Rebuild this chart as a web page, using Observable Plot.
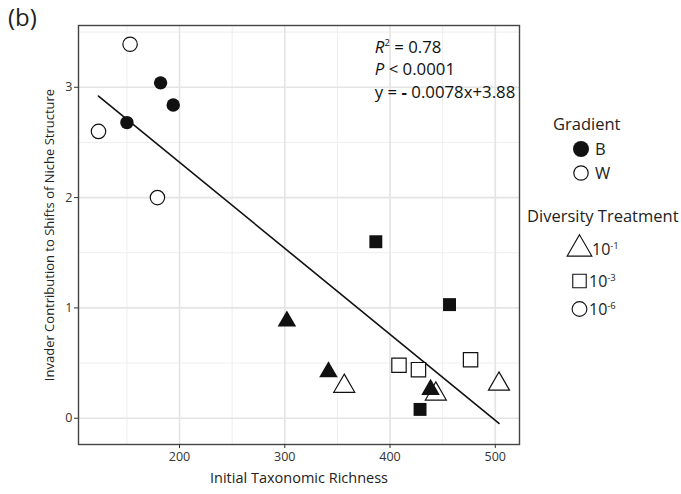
<!DOCTYPE html>
<html>
<head>
<meta charset="utf-8">
<script src="https://cdn.jsdelivr.net/npm/d3@7"></script>
<script src="https://cdn.jsdelivr.net/npm/@observablehq/plot@0.6"></script>
<style>
  body { margin: 0; background: #fff; }
  #wrap { position: relative; width: 681px; height: 494px; font-family: "Open Sans", sans-serif; color: #222; overflow: hidden; }
  #title { position: absolute; left: 8px; top: 0px; font-size: 24px; }
  .ann { position: absolute; font-size: 16.8px; line-height: 20px; white-space: nowrap; color: #111; }
  .ann sup { font-size: 9.5px; vertical-align: 7px; line-height: 0; }
  #legend { position: absolute; left: 0; top: 0; }
</style>
</head>
<body>
<div id="wrap">
  <div id="chart"></div>
  <div id="title">(b)</div>
</div>
<script>
// ---- data ----
const richness     = [153, 123, 179, 182, 194, 150, 386.5, 456.5, 428.5, 408.5, 427, 476.5, 302, 341.5, 438.5, 356.5, 443.5, 503.5];
const contribution = [3.39, 2.60, 2.00, 3.04, 2.84, 2.68, 1.60, 1.03, 0.08, 0.48, 0.44, 0.53, 0.88, 0.42, 0.26, 0.29, 0.22, 0.31];
const gradient     = ["W","W","W","B","B","B","B","B","B","W","W","W","B","B","B","W","W","W"];
const treatment    = ["1e-6","1e-6","1e-6","1e-6","1e-6","1e-6","1e-3","1e-3","1e-3","1e-3","1e-3","1e-3","1e-1","1e-1","1e-1","1e-1","1e-1","1e-1"];
const fitSlope = -0.0078;
const fitIntercept = 3.88;
const xTicks = [200, 300, 400, 500];
const yTicks = [0, 1, 2, 3];
const xMinor = [150, 250, 350, 450];
const yMinor = [0.5, 1.5, 2.5, 3.5];
const annotationLines = ["R2 = 0.78", "P < 0.0001", "y = - 0.0078x+3.88"];
const annotationX = 386;
const annotationY = [3.36, 3.16, 2.95];
const gradientLevels = ["B", "W"];
const treatmentLevels = ["1e-1", "1e-3", "1e-6"];
const treatmentLabels = ["10", "10", "10"];
const treatmentExps = ["-1", "-3", "-6"];

// ---- styles ----
const symbolOf = {"1e-1": "triangle", "1e-3": "square", "1e-6": "circle"};
const sizeOf = {
  "B|1e-1": 6.9, "W|1e-1": 7.8,
  "B|1e-3": 7.3, "W|1e-3": 8.1,
  "B|1e-6": 6.7, "W|1e-6": 7.2
};

const data = richness.map((x, i) => ({x, y: contribution[i], g: gradient[i], t: treatment[i]}));
const xExt = d3.extent(richness);
const fit = xExt.map(x => ({x, y: fitIntercept + fitSlope * x}));

// draw open symbols first, filled ones on top
const groups = [];
for (const g of ["W", "B"]) for (const t of treatmentLevels) groups.push([g, t]);
const dotMarks = groups.map(([g, t]) => Plot.dot(data.filter(d => d.g === g && d.t === t), {
  x: "x", y: "y",
  symbol: () => symbolOf[t],
  r: sizeOf[g + "|" + t],
  fill: g === "B" ? "#111" : "white",
  stroke: "#111",
  strokeWidth: g === "B" ? 0 : 1.2
}));

const plot = Plot.plot({
  width: 681,
  height: 494,
  marginLeft: 78,
  marginRight: 162,
  marginTop: 25,
  marginBottom: 50,
  style: {background: "white", fontFamily: "'Open Sans', sans-serif", overflow: "visible"},
  x: {domain: [104, 523]},
  y: {domain: [-0.238, 3.56]},
  symbol: {type: "identity"},
  marks: [
    Plot.gridX(xMinor, {stroke: "#eeeeee", strokeOpacity: 1, strokeWidth: 1}),
    Plot.gridY(yMinor, {stroke: "#eeeeee", strokeOpacity: 1, strokeWidth: 1}),
    Plot.gridX(xTicks, {stroke: "#e4e4e4", strokeOpacity: 1, strokeWidth: 1.6}),
    Plot.gridY(yTicks, {stroke: "#e4e4e4", strokeOpacity: 1, strokeWidth: 1.6}),
    Plot.line(fit, {x: "x", y: "y", stroke: "#111", strokeWidth: 1.6}),
    ...dotMarks,
    Plot.frame({stroke: "#444", strokeWidth: 1.4}),
    Plot.axisX({ticks: xTicks, tickFormat: d3.format("d"), tickSize: 4, tickPadding: 4, fontSize: 12.5, color: "#333", label: null}),
    Plot.axisY({ticks: yTicks, tickFormat: d3.format("d"), tickSize: 4, tickPadding: 2, fontSize: 12.5, color: "#333", label: null}),
    Plot.text(["Initial Taxonomic Richness"], {frameAnchor: "bottom", dy: 38, fontSize: 14.5, fill: "#222"}),
    Plot.text(["Invader Contribution to Shifts of Niche Structure"], {frameAnchor: "left", textAnchor: "middle", dx: -29, rotate: -90, fontSize: 13, fill: "#222"})
  ]
});
document.getElementById("chart").appendChild(plot);

// ---- annotation (positioned through the plot's scales) ----
const wrap = document.getElementById("wrap");
const sx = plot.scale("x"), sy = plot.scale("y");
const annHTML = [
  '<i>R</i><sup>2</sup> = 0.78',
  '<i>P</i> &lt; 0.0001',
  'y = <b style="font-weight:700">-</b> 0.0078x+3.88'
];
annotationLines.forEach((txt, i) => {
  const div = document.createElement("div");
  div.className = "ann";
  div.innerHTML = annHTML[i];
  div.style.left = sx.apply(annotationX) + "px";
  div.style.top = (sy.apply(annotationY[i]) - 10) + "px";
  wrap.appendChild(div);
});

// ---- legend ----
const svg = d3.select(wrap).append("svg").attr("id", "legend")
  .attr("width", 681).attr("height", 494)
  .style("font-family", "'Open Sans', sans-serif").style("fill", "#222");
const area = r => Math.PI * r * r;
const symType = {triangle: d3.symbolTriangle, square: d3.symbolSquare, circle: d3.symbolCircle};

svg.append("text").attr("x", 553).attr("y", 130).attr("font-size", 16.5).text("Gradient");
const gradY = [149, 173];
gradientLevels.forEach((g, i) => {
  svg.append("path")
    .attr("transform", `translate(581,${gradY[i]})`)
    .attr("d", d3.symbol(d3.symbolCircle, area(g === "B" ? 8 : 7.2))())
    .attr("fill", g === "B" ? "#111" : "white")
    .attr("stroke", "#111").attr("stroke-width", g === "B" ? 0 : 1.2);
  svg.append("text").attr("x", 595).attr("y", gradY[i] + 6).attr("font-size", 16.5).text(g);
});

svg.append("text").attr("x", 527).attr("y", 222).attr("font-size", 16.5).text("Diversity Treatment");
const trtY = [249, 281, 309];
const trtR = [9.2, 7.6, 7.4];
const trtTextX = [592, 589, 589];
treatmentLevels.forEach((t, i) => {
  svg.append("path")
    .attr("transform", `translate(579.5,${trtY[i]})`)
    .attr("d", d3.symbol(symType[symbolOf[t]], area(trtR[i]))())
    .attr("fill", "white").attr("stroke", "#111").attr("stroke-width", 1.1);
  const tx = svg.append("text").attr("x", trtTextX[i]).attr("y", trtY[i] + 6).attr("font-size", 16);
  tx.append("tspan").text(treatmentLabels[i]);
  tx.append("tspan").attr("font-size", 9.5).attr("dy", -6.5).text(treatmentExps[i]);
});
</script>
</body>
</html>
